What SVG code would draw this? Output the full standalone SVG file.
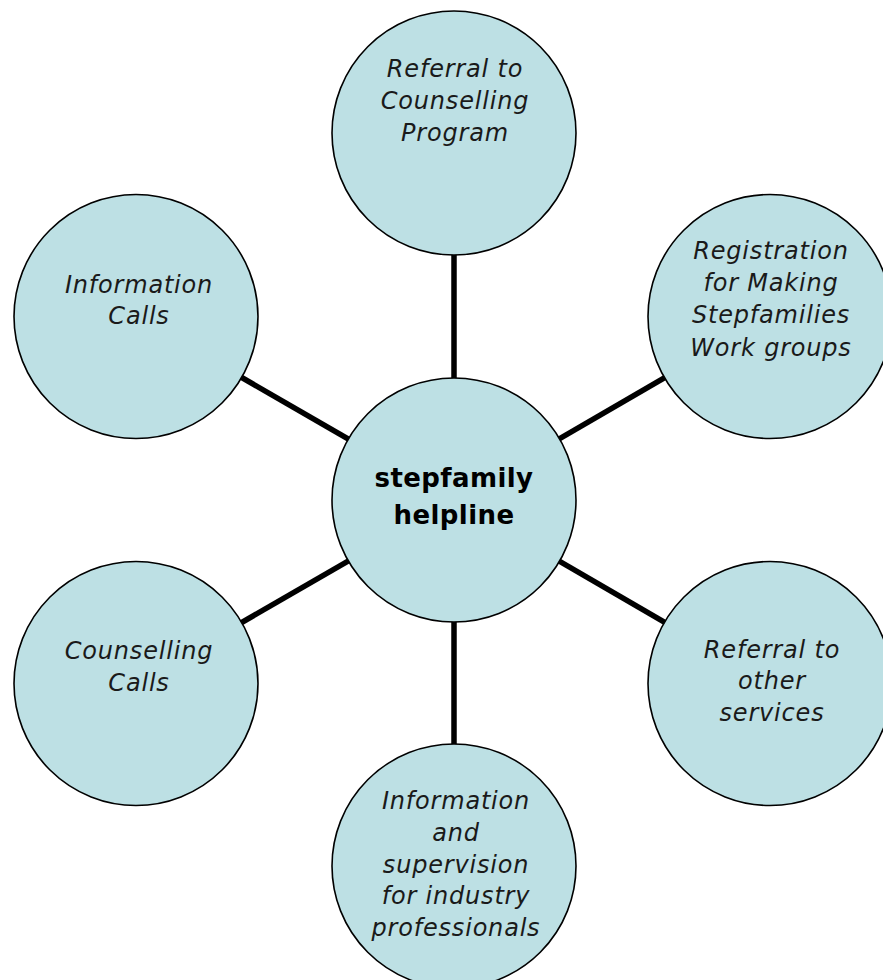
<svg xmlns="http://www.w3.org/2000/svg" width="883" height="980" viewBox="0 0 883 980">
<style>
.node{fill:#bde0e4;stroke:#000;stroke-width:1.6}
.conn{stroke:#000;stroke-width:5.5;fill:none}
.lbl{font-family:"DejaVu Sans","Liberation Sans",sans-serif;font-style:italic;font-size:24px;letter-spacing:0.8px;fill:#1a1a1a;text-anchor:middle}
.hub{font-family:"DejaVu Sans","Liberation Sans",sans-serif;font-weight:bold;font-size:26px;letter-spacing:0.4px;fill:#000;text-anchor:middle}
</style>
<rect width="883" height="980" fill="#fff"/>
<g id="connectors">
<line class="conn" x1="454" y1="500" x2="454" y2="133"/>
<line class="conn" x1="454" y1="500" x2="454" y2="866"/>
<line class="conn" x1="454" y1="500" x2="136" y2="316.5"/>
<line class="conn" x1="454" y1="500" x2="136" y2="683.5"/>
<line class="conn" x1="454" y1="500" x2="770" y2="316.5"/>
<line class="conn" x1="454" y1="500" x2="770" y2="683.5"/>
</g>
<g id="node-top">
<circle class="node" cx="454" cy="133" r="122"/>
<text class="lbl"><tspan x="455" y="77">Referral to</tspan><tspan x="455" y="109">Counselling</tspan><tspan x="455" y="141">Program</tspan></text>
</g>
<g id="node-registration">
<circle class="node" cx="770" cy="316.5" r="122"/>
<text class="lbl"><tspan x="771" y="259">Registration</tspan><tspan x="771" y="291">for Making</tspan><tspan x="771" y="323">Stepfamilies</tspan><tspan x="771" y="356">Work groups</tspan></text>
</g>
<g id="node-info-calls">
<circle class="node" cx="136" cy="316.5" r="122"/>
<text class="lbl"><tspan x="139" y="293">Information</tspan><tspan x="139" y="324">Calls</tspan></text>
</g>
<g id="node-counselling-calls">
<circle class="node" cx="136" cy="683.5" r="122"/>
<text class="lbl"><tspan x="139" y="659">Counselling</tspan><tspan x="139" y="691">Calls</tspan></text>
</g>
<g id="node-referral-other">
<circle class="node" cx="770" cy="683.5" r="122"/>
<text class="lbl"><tspan x="772" y="658">Referral to</tspan><tspan x="772" y="689">other</tspan><tspan x="772" y="721">services</tspan></text>
</g>
<g id="node-bottom">
<circle class="node" cx="454" cy="866" r="122"/>
<text class="lbl"><tspan x="456" y="809">Information</tspan><tspan x="456" y="841">and</tspan><tspan x="456" y="873">supervision</tspan><tspan x="456" y="904">for industry</tspan><tspan x="456" y="936">professionals</tspan></text>
</g>
<g id="node-hub">
<circle class="node" cx="454" cy="500" r="122"/>
<text class="hub"><tspan x="454" y="487">stepfamily</tspan><tspan x="454" y="524">helpline</tspan></text>
</g>
</svg>
